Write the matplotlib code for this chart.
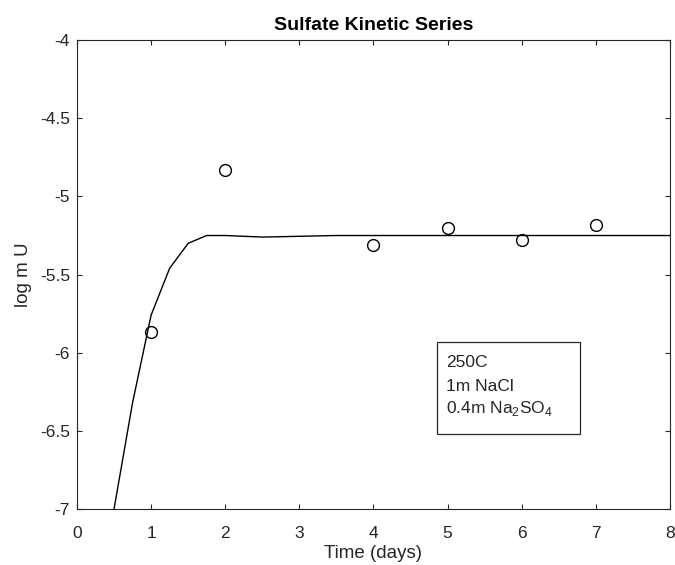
import numpy as np
import matplotlib.pyplot as plt
from matplotlib.patches import Rectangle

plt.rcParams["font.family"] = ["Liberation Sans", "DejaVu Sans"]
plt.rcParams["mathtext.fontset"] = "custom"
plt.rcParams["mathtext.rm"] = "Liberation Sans"

# measured data (circles)
t_obs = [1, 2, 4, 5, 6, 7]
logU_obs = [-5.87, -4.83, -5.31, -5.20, -5.28, -5.18]

# model curve
t_model = [0.5, 0.75, 1.0, 1.25, 1.5, 1.75, 2.0, 2.5, 3.0, 3.5, 4.0, 5.0, 6.0, 7.0, 8.0]
logU_model = [-7.0, -6.32, -5.76, -5.46, -5.30, -5.25, -5.25, -5.26, -5.255, -5.25,
              -5.25, -5.25, -5.25, -5.25, -5.25]

axis_col = "#262626"

fig = plt.figure(figsize=(6.75, 5.65), dpi=100)
ax = fig.add_axes([0.114, 0.099, 0.8786, 0.830])

ax.plot(t_model, logU_model, color="black", linewidth=1.0)
ax.plot(t_obs, logU_obs, "o", markerfacecolor="none", markeredgecolor="black",
        markersize=8.5, markeredgewidth=1.0)

ax.set_xlim(0, 8)
ax.set_ylim(-7, -4)
ax.set_xticks(range(0, 9))
ax.set_yticks([-7, -6.5, -6, -5.5, -5, -4.5, -4])
ax.set_yticklabels(["-7", "-6.5", "-6", "-5.5", "-5", "-4.5", "-4"])
ax.tick_params(direction="in", top=True, right=True, length=3.6, width=0.8,
               colors=axis_col, labelsize=12.5)
ax.tick_params(axis="x", pad=12)
ax.tick_params(axis="y", pad=5)
for s in ax.spines.values():
    s.set_color(axis_col)
    s.set_linewidth(0.8)

ax.set_xlabel("Time (days)", fontsize=13.5, color=axis_col, labelpad=3)
ax.set_ylabel("log m U", fontsize=13.5, color=axis_col, labelpad=6)
ax.set_title("Sulfate Kinetic Series", fontsize=14, fontweight="bold",
             color="black", pad=7)

# annotation box
box = Rectangle((4.86, -6.52), 1.93, 0.59, fill=False, edgecolor=axis_col,
                linewidth=0.9, zorder=3)
ax.add_patch(box)
box_lines = ["250C", "1m NaCl", r"0.4m Na$_{2}$SO$_{4}$"]
box_y = [-6.092, -6.246, -6.386]
for txt, yy in zip(box_lines, box_y):
    ax.text(4.98, yy, txt, fontsize=12.5, color=axis_col, va="baseline")

fig.savefig("out.png", dpi=100)
